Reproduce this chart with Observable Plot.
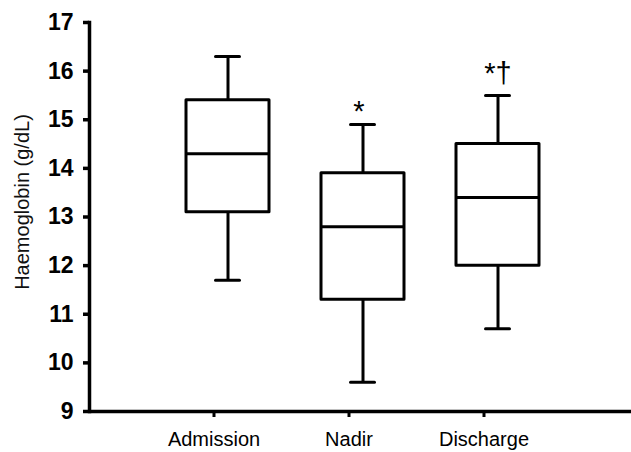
<!DOCTYPE html>
<html>
<head>
<meta charset="utf-8">
<script src="https://cdn.jsdelivr.net/npm/d3@7"></script>
<script src="https://cdn.jsdelivr.net/npm/@observablehq/plot@0.6"></script>
<style>
  html, body { margin: 0; padding: 0; background: #fff; }
  #chart svg { display: block; font-family: "Liberation Sans", Arial, sans-serif; }
</style>
</head>
<body>
<div id="chart"></div>
<script>
const categories = ["Admission", "Nadir", "Discharge"];
const whiskerLow = [11.7, 9.6, 10.7];
const q1 = [13.1, 11.3, 12.0];
const median = [14.3, 12.8, 13.4];
const q3 = [15.4, 13.9, 14.5];
const whiskerHigh = [16.3, 14.9, 15.5];
const annotations = ["", "*", "*†"];
const yTicks = [9, 10, 11, 12, 13, 14, 15, 16, 17];
const yLabel = "Haemoglobin (g/dL)";

const data = categories.map((c, i) => ({
  cat: c, lo: whiskerLow[i], q1: q1[i], med: median[i], q3: q3[i], hi: whiskerHigh[i], note: annotations[i]
}));

const chart = Plot.plot({
  width: 631,
  height: 452,
  marginLeft: 89,
  marginRight: 0,
  marginTop: 22,
  marginBottom: 41,
  style: { fontFamily: '"Liberation Sans", Arial, sans-serif', background: "white", color: "black" },
  x: { type: "band", domain: categories, paddingInner: 0.3875, paddingOuter: 0.694, align: 0.513, axis: null },
  y: { domain: [9, 17], axis: null },
  marks: [
    Plot.axisY(yTicks, { tickSize: 6, tickPadding: 10, strokeWidth: 3.5, fontSize: 23, fontWeight: "bold", label: null }),
    Plot.axisX({ tickSize: 6, tickPadding: 14, strokeWidth: 3, fontSize: 20, label: null, dx: -14 }),
    Plot.frame({ anchor: "left", strokeWidth: 3.5 }),
    Plot.ruleY([9], { strokeWidth: 3.5 }),
    Plot.text([yLabel], { frameAnchor: "left", text: d => d, rotate: -90, textAnchor: "middle", dx: -67, dy: -15, fontSize: 20, fill: "#111" }),
    Plot.ruleX(data, { x: "cat", y1: "lo", y2: "hi", strokeWidth: 3 }),
    Plot.barY(data, { x: "cat", y1: "q1", y2: "q3", fill: "white", stroke: "black", strokeWidth: 3, strokeLinejoin: "round" }),
    Plot.tickY(data, { x: "cat", y: "med", strokeWidth: 3 }),
    Plot.tickY(data, { x: "cat", y: "hi", strokeWidth: 3, inset: 29.5, strokeLinecap: "round" }),
    Plot.tickY(data, { x: "cat", y: "lo", strokeWidth: 3, inset: 29.5, strokeLinecap: "round" }),
    Plot.text(data.filter(d => d.note === "*"), { x: "cat", y: "hi", text: "note", lineAnchor: "bottom", dy: -4, dx: -4, fontSize: 29 }),
    Plot.text(data.filter(d => d.note === "*†"), { x: "cat", y: "hi", text: "note", lineAnchor: "bottom", dy: -12, fontSize: 29 })
  ]
});
document.getElementById("chart").appendChild(chart);
</script>
</body>
</html>
